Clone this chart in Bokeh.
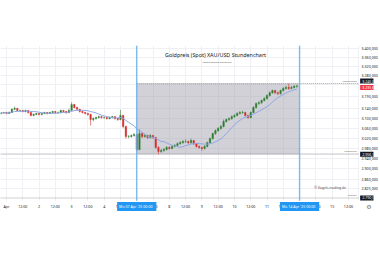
import numpy as np
import pandas as pd
from bokeh.plotting import figure
from bokeh.models import Range1d, FixedTicker, BoxAnnotation, Label
from bokeh.embed import file_html
from bokeh.resources import INLINE

# ---- data: 2-hour candles, XAU/USD, starting 4h before Apr 1 00:00 ----
first_bar = -2
bars_per_day = 12
first_open = 3120.0
closes = [3122, 3124,
          3120, 3124, 3137, 3141, 3132, 3132, 3128, 3132, 3124, 3112, 3116, 3120,
          3116, 3120, 3124, 3120, 3124, 3128, 3124, 3124, 3132, 3128, 3124, 3132,
          3157, 3145, 3137, 3128, 3124, 3120, 3116, 3095, 3099, 3103, 3107, 3103,
          3103, 3099, 3103, 3107, 3099, 3095, 3112, 3067, 3026, 3026, 3030, 3034,
          2975, 3038, 3026, 3030, 3022, 3030, 3022, 2983, 2967, 2971, 2975, 2983,
          2979, 2987, 2991, 2998, 3002, 3006, 3006, 3002, 3010, 2998, 2987, 2983,
          2979, 2987, 3002, 3018, 3038, 3050, 3059, 3067, 3087, 3095, 3099, 3107,
          3112, 3120, 3124, 3124, 3112, 3103, 3124, 3145, 3161, 3165, 3174, 3182,
          3195, 3207, 3216, 3207, 3203, 3216, 3225, 3229, 3225, 3229, 3234, 3235.68]
highs = [3126, 3127,
         3127, 3128, 3141, 3149, 3143, 3136, 3135, 3136, 3134, 3126, 3120, 3123,
         3122, 3123, 3127, 3126, 3127, 3131, 3130, 3128, 3136, 3135, 3131, 3140,
         3167, 3160, 3148, 3139, 3131, 3127, 3123, 3119, 3104, 3107, 3111, 3110,
         3108, 3106, 3107, 3111, 3110, 3102, 3135, 3115, 3070, 3032, 3035, 3040,
         3036, 3055, 3042, 3036, 3034, 3036, 3033, 3025, 2988, 2977, 2981, 2988,
         2987, 2991, 2996, 3003, 3008, 3012, 3015, 3010, 3018, 3013, 3001, 2991,
         2986, 2992, 3006, 3022, 3042, 3055, 3064, 3073, 3095, 3099, 3104, 3112,
         3117, 3125, 3130, 3131, 3127, 3115, 3128, 3150, 3166, 3171, 3178, 3188,
         3200, 3212, 3220, 3219, 3212, 3220, 3230, 3236, 3245.85, 3236, 3239, 3241]
lows = [3117, 3119,
        3117, 3118, 3122, 3134, 3129, 3127, 3125, 3125, 3120, 3108, 3109, 3113,
        3112, 3113, 3117, 3116, 3117, 3121, 3120, 3119, 3121, 3124, 3118, 3121,
        3130, 3141, 3133, 3124, 3120, 3116, 3111, 3071, 3088, 3095, 3100, 3099,
        3098, 3095, 3096, 3100, 3095, 3090, 3092, 3060, 3018, 3020, 3022, 3026,
        2968, 2972, 3020, 3022, 3016, 3018, 3017, 2978, 2956.35, 2962, 2966, 2971,
        2974, 2976, 2983, 2988, 2994, 2998, 3001, 2996, 2998, 2993, 2982, 2977,
        2970, 2975, 2984, 2998, 3014, 3033, 3045, 3054, 3063, 3082, 3090, 3094,
        3102, 3108, 3116, 3118, 3107, 3098, 3100, 3120, 3140, 3156, 3160, 3170,
        3178, 3190, 3202, 3201, 3197, 3199, 3212, 3220, 3219, 3221, 3225, 3228]
ma_window = 10

# x-axis (trading-day units: 0 = Tu 1 Apr, 4 = Mo 7 Apr, 9 = Mo 14 Apr)
x_ticks = [0, 0.5, 1, 1.5, 2, 2.5, 3, 3.5, 4, 4.5, 5, 5.5, 6, 6.5, 7, 7.5, 8, 8.5, 9, 9.5, 10, 10.5]
x_tick_labels = ["Apr", "12:00", "2", "12:00", "3", "12:00", "4", "12:00", "7", "12:00",
                 "8", "12:00", "9", "12:00", "10", "12:00", "11", "12:00", "14", "12:00", "15", "12:00"]
y_ticks = [3400, 3360, 3320, 3280, 3240, 3190, 3140, 3100, 3060, 3020, 2980, 2960, 2940, 2900, 2860, 2825]
y_hidden = [3240, 2960]

range_start_day = 4
range_end_day = 9
range_high = 3245.85
range_low = 2956.35
support_level = 2790.0
last_price = 3235.68
date_labels = ["Mo 07 Apr '25   00:00", "Mo 14 Apr '25   00:00"]
title_text = "Goldpreis (Spot) XAU/USD Stundenchart"
subtitle_text = "Logarithmische Skalierung"
copyright_text = "\u00a9 Kagels-trading.de"

# ---- layout constants (view window) ----
X0, X1 = -0.1835, 11.27         # frame width
Y0, Y1 = 2737.0, 3413.5         # frame from y=45px to y=212px
PANE_RIGHT = 10.826             # price-pane right edge (px 360)
PANE_BOTTOM = 2779.7            # price-pane bottom edge (px 200)
TIME_ROW = 2758.7               # centre of the time-axis row
AXIS_COL = 10.86                # left of the price-axis column


def de(v):
    s = f"{v:,.3f}"
    return s.replace(",", "X").replace(".", ",").replace("X", ".")


n = len(closes)
x = (np.arange(n) + first_bar) / bars_per_day
c = np.array(closes, dtype=float)
o = np.concatenate([[first_open], c[:-1]])
h = np.array(highs, dtype=float)
l = np.array(lows, dtype=float)
ma = pd.Series(c).rolling(ma_window, min_periods=1).mean().values
up = c >= o
col = np.where(up, "#2e7d32", "#d32f2f")

FONT = "Noto Sans"
DARK = "#131722"

p = figure(width=380, height=254, output_backend="svg", toolbar_location=None,
           y_axis_type="log", y_axis_location="right",
           x_range=Range1d(X0, X1), y_range=Range1d(Y0, Y1),
           min_border_left=0, min_border_top=45, min_border_bottom=42, min_border_right=0)
p.outline_line_color = None
p.background_fill_color = "white"
p.border_fill_color = "white"

p.xgrid.grid_line_color = "#eef0f4"
p.ygrid.grid_line_color = "#eef0f4"

ya = p.yaxis[0]
ya.ticker = FixedTicker(ticks=y_ticks)
ya.major_label_overrides = {t: ("" if t in y_hidden else de(t)) for t in y_ticks}
ya.major_tick_line_color = None
ya.minor_tick_line_color = None
ya.axis_line_color = None
ya.major_label_text_font_size = "3.6px"
ya.major_label_text_font = FONT
ya.major_label_text_color = DARK
ya.major_label_standoff = -18

xa = p.xaxis[0]
xa.ticker = FixedTicker(ticks=x_ticks)
xa.major_label_overrides = {t: lab for t, lab in zip(x_ticks, x_tick_labels)}
xa.major_tick_line_color = None
xa.minor_tick_line_color = None
xa.axis_line_color = None
xa.major_label_text_font_size = "3.6px"
xa.major_label_text_font = FONT
xa.major_label_text_color = DARK
xa.major_label_standoff = -15

# white axis strips (price column, time row) over the grid
p.add_layout(BoxAnnotation(left=PANE_RIGHT, fill_color="white", fill_alpha=1, line_color=None, level="glyph"))
p.add_layout(BoxAnnotation(top=PANE_BOTTOM, fill_color="white", fill_alpha=1, line_color=None, level="glyph"))
p.segment(x0=[PANE_RIGHT], y0=[Y0], x1=[PANE_RIGHT], y1=[Y1], line_color="#e0e3eb", line_width=1)

# range box
p.add_layout(BoxAnnotation(left=range_start_day, right=range_end_day, top=range_high, bottom=range_low,
                           fill_color="#9a9aa6", fill_alpha=0.45, line_color=None, level="underlay"))

# dotted level lines
p.segment(x0=[range_start_day, X0, X0], y0=[range_high, range_low, support_level],
          x1=[PANE_RIGHT] * 3, y1=[range_high, range_low, support_level],
          line_color="#8a8a8a", line_dash="1 1", line_width=0.8)

# candles
p.segment(x0=x, y0=h, x1=x, y1=l, line_color=col, line_width=0.6)
p.vbar(x=x, width=0.55 / bars_per_day, top=np.maximum(o, c), bottom=np.minimum(o, c),
       fill_color=col, line_color=col, line_width=0.4)

# moving average
p.line(x, ma, line_color="#8ea7e6", line_width=1)

# vertical date markers
p.segment(x0=[range_start_day, range_end_day], y0=[TIME_ROW] * 2,
          x1=[range_start_day, range_end_day], y1=[Y1] * 2,
          line_color="#64b0f0", line_width=1.4, line_alpha=0.85)

# texts
p.add_layout(Label(x=6.42, y=3373, text=title_text, text_align="center", text_baseline="middle",
                   text_font=FONT, text_font_size="5.4px", text_color=DARK))
p.add_layout(Label(x=6.02, y=3338, text=subtitle_text, text_align="left", text_baseline="middle",
                   text_font=FONT, text_font_size="2.3px", text_color="#555"))
p.add_layout(Label(x=9.45, y=2829, text=copyright_text, text_align="left", text_baseline="middle",
                   text_font=FONT, text_font_size="3.4px", text_color="#555"))
for lvl, txt in ((range_high, "Wochenhoch"), (range_low, "Wochentief"), (support_level, "Support")):
    p.add_layout(Label(x=PANE_RIGHT, y=lvl, x_offset=-2, y_offset=1.5, text=txt, text_align="right",
                       text_baseline="bottom", text_font=FONT, text_font_size="2.4px", text_color="#666"))

# date boxes on the time axis
for d, txt in zip((range_start_day, range_end_day), date_labels):
    p.add_layout(Label(x=d, y=TIME_ROW, text=txt, text_align="center", text_baseline="middle",
                       text_font=FONT, text_font_size="3.6px", text_color="white",
                       background_fill_color="#2196f3", padding=2))

# price boxes on the price axis
for val, bg, yoff in ((range_high, DARK, 2.5), (last_price, "#f23645", -1.5),
                      (range_low, DARK, 0), (support_level, DARK, 0)):
    p.add_layout(Label(x=AXIS_COL, y=val, y_offset=yoff, text=de(val), text_align="left",
                       text_baseline="middle", text_font=FONT, text_font_size="3.6px",
                       text_color="white", background_fill_color=bg, padding=(2, 1)))

p.add_layout(Label(x=11.13, y=TIME_ROW, text="\u2699", text_align="center", text_baseline="middle",
                   text_font="DejaVu Sans", text_font_size="6px", text_color="#787b86"))

open("out.html", "w").write(file_html(p, INLINE))
